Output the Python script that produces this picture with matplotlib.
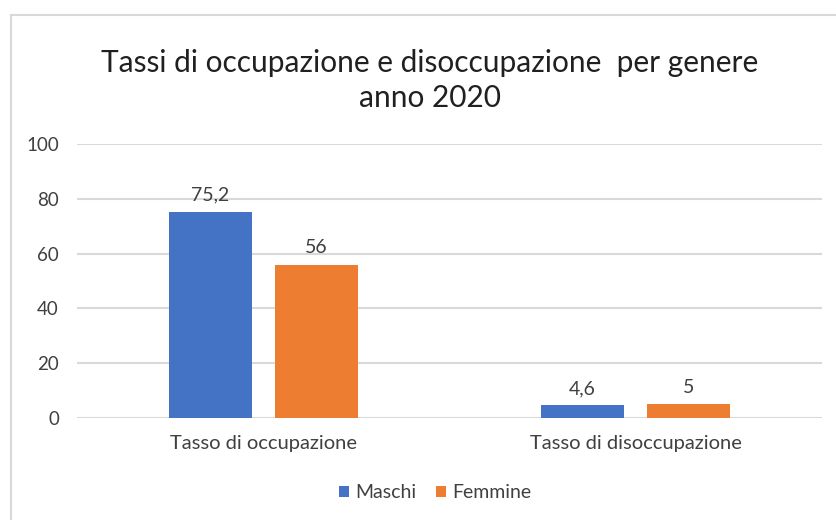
import numpy as np
import matplotlib
matplotlib.use("Agg")
import matplotlib.pyplot as plt
from matplotlib.lines import Line2D

categories = ["Tasso di occupazione", "Tasso di disoccupazione"]
series_names = ["Maschi", "Femmine"]
maschi = [75.2, 4.6]
femmine = [56, 5]
colors = ["#4472C4", "#ED7D31"]

plt.rcParams["font.family"] = ["Lato", "DejaVu Sans"]

fig = plt.figure(figsize=(8.36, 5.2), dpi=100)
ax = fig.add_axes([77 / 836, 102 / 520, 745 / 836, 274 / 520])

x = np.arange(len(categories))
width = 0.223
offset = 0.1425

for values, name, color, sign in [
    (maschi, series_names[0], colors[0], -1),
    (femmine, series_names[1], colors[1], 1)
]:
    bars = ax.bar(x + sign * offset, values, width, color=color, label=name, zorder=3)
    for bar, v in zip(bars, values):
        label = f"{v:g}".replace(".", ",")
        ax.annotate(
            label,
            (bar.get_x() + bar.get_width() / 2, bar.get_height()),
            xytext=(0, 6), textcoords="offset points",
            ha="center", va="bottom", fontsize=14, color="#404040"
        )

ax.set_xlim(-0.5, 1.5)
ax.set_ylim(0, 100)
ax.set_yticks(range(0, 101, 20))
ax.set_xticks(x)
ax.set_xticklabels(categories, fontsize=14.5)
ax.tick_params(axis="both", length=0, colors="#404040")
ax.tick_params(axis="y", labelsize=13.5, pad=13)
ax.tick_params(axis="x", pad=12)
ax.grid(axis="y", color="#d9d9d9", linewidth=1.5, zorder=0)
for s in ax.spines.values():
    s.set_visible(False)

title_x = 430 / 836
fig.text(
    title_x, 1 - 63 / 520,
    "Tassi di occupazione e disoccupazione  per genere",
    ha="center", va="center", fontsize=21.5, color="#202020"
)
fig.text(title_x, 1 - 98 / 520, "anno 2020", ha="center", va="center", fontsize=21.5, color="#202020")

ax.legend(
    loc="center", bbox_to_anchor=(435 / 836, (520 - 493) / 520),
    bbox_transform=fig.transFigure, ncol=2, frameon=False,
    fontsize=14, handlelength=0.55, handleheight=0.55, handletextpad=0.3,
    columnspacing=1.0, labelcolor="#404040"
)

# chart border (top and left only visible)
fig.add_artist(Line2D([11 / 836, 1], [1 - 15 / 520] * 2, transform=fig.transFigure, color="#d9d9d9", lw=1.5))
fig.add_artist(Line2D([11 / 836] * 2, [0, 1 - 15 / 520], transform=fig.transFigure, color="#d9d9d9", lw=1.5))

fig.savefig("out.png", dpi=100)
